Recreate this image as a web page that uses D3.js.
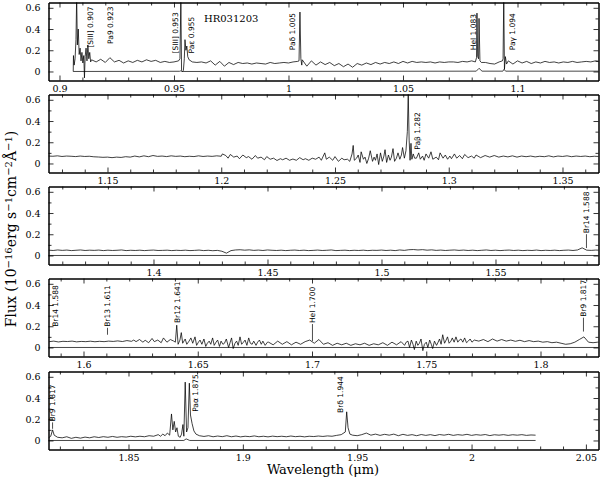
<!DOCTYPE html>
<html><head><meta charset="utf-8">
<script src="https://cdn.jsdelivr.net/npm/d3@7"></script>
<style>body{margin:0;background:#fff}svg{display:block}</style>
</head><body><svg id="c" width="600" height="479"></svg>
<script>
// ---------- data ----------
const xDomains = [[0.89520,1.13537],[1.12407,1.36583],[1.35395,1.59518],[1.58468,1.82538],[1.81502,2.05551]];
const xMajor = [[0.9,0.95,1,1.05,1.1],[1.15,1.2,1.25,1.3,1.35],[1.4,1.45,1.5,1.55],[1.6,1.65,1.7,1.75,1.8],[1.85,1.9,1.95,2,2.05]];
const yDomain = [-0.085, 0.65];
const yMajor = [0, 0.2, 0.4, 0.6];
const yMinor = [0.1, 0.3, 0.5];

const spec1 = [
[0.9060,0.00],[0.9061,0.15],[0.9064,0.06],[0.9068,0.12],[0.9072,0.30],[0.9075,0.70],[0.9078,0.25],[0.9082,0.40],[0.9086,0.16],[0.9090,0.22],[0.9094,0.10],[0.9098,0.18],[0.9102,0.08],[0.9106,0.15],[0.9109,-0.06],[0.9112,0.14],[0.9116,0.22],[0.9120,0.10],[0.9124,0.25],[0.9128,0.12],[0.9132,0.18],[0.9136,0.09],
[0.914,0.11],[0.916,0.09],[0.918,0.115],[0.920,0.085],[0.922,0.13],[0.924,0.09],[0.926,0.105],[0.928,0.08],[0.930,0.10],[0.932,0.085],[0.934,0.105],[0.936,0.09],[0.938,0.11],[0.940,0.095],[0.942,0.105],[0.944,0.085],[0.946,0.095],[0.948,0.085],[0.950,0.09],[0.952,0.10],
[0.9526,0.12],[0.9530,0.68],[0.9533,0.01],[0.9537,0.00],[0.9541,0.01],[0.9545,0.12],[0.9548,0.30],[0.9552,0.20],[0.9556,0.24],[0.9560,0.14],[0.9566,0.11],
[0.958,0.09],[0.960,0.085],[0.962,0.09],[0.964,0.08],[0.966,0.10],[0.968,0.06],[0.970,0.095],[0.972,0.05],[0.974,0.085],[0.976,0.065],[0.978,0.085],[0.980,0.075],[0.982,0.08],[0.984,0.07],[0.986,0.08],[0.988,0.075],[0.990,0.07],[0.992,0.085],[0.994,0.075],[0.996,0.08],[0.998,0.085],[1.000,0.08],[1.002,0.09],[1.004,0.095],
[1.0046,0.10],[1.0050,0.56],[1.0054,0.12],[1.0058,0.06],
[1.006,0.11],[1.008,0.05],[1.010,0.10],[1.012,0.06],[1.014,0.09],[1.016,0.065],[1.018,0.085],[1.020,0.055],[1.022,0.075],[1.024,0.045],[1.026,0.07],[1.028,0.04],[1.030,0.075],[1.032,0.06],[1.034,0.08],[1.036,0.065],[1.038,0.085],[1.040,0.07],[1.042,0.085],[1.044,0.075],[1.046,0.09],[1.048,0.075],[1.050,0.095],[1.052,0.08],[1.054,0.095],[1.056,0.085],[1.058,0.09],[1.060,0.085],[1.062,0.09],[1.064,0.08],[1.066,0.09],[1.068,0.085],[1.070,0.09],[1.072,0.09],[1.074,0.085],[1.076,0.095],[1.078,0.09],[1.080,0.10],
[1.0816,0.09],[1.0821,0.13],[1.0823,0.55],[1.0826,0.14],[1.0830,0.12],[1.0832,0.50],[1.0836,0.10],[1.0842,0.085],
[1.086,0.085],[1.088,0.075],[1.090,0.07],[1.092,0.09],
[1.0934,0.10],[1.0937,0.12],[1.0940,0.70],[1.0943,0.02],[1.0947,0.14],[1.0952,0.07],
[1.096,0.10],[1.098,0.07],[1.100,0.10],[1.102,0.08],[1.104,0.095],[1.106,0.075],[1.108,0.09],[1.110,0.08],[1.112,0.095],[1.114,0.085],[1.116,0.09],[1.118,0.08],[1.120,0.09],[1.122,0.085],[1.124,0.095],[1.126,0.085],[1.128,0.09],[1.130,0.095],[1.132,0.09],[1.134,0.10],[1.1356,0.095]
];

const spec2 = [
[1.124,0.070],[1.126,0.068],[1.128,0.072],[1.130,0.066],[1.132,0.070],[1.134,0.068],[1.136,0.065],[1.138,0.070],[1.140,0.066],[1.142,0.068],
[1.144,0.063],[1.146,0.061],[1.148,0.058],[1.150,0.060],[1.152,0.055],[1.154,0.060],[1.156,0.057],[1.158,0.064],[1.160,0.060],[1.162,0.070],
[1.164,0.062],[1.166,0.072],[1.168,0.064],[1.170,0.075],[1.172,0.067],[1.174,0.070],[1.176,0.065],[1.178,0.072],[1.180,0.067],[1.182,0.070],
[1.184,0.064],[1.186,0.068],[1.188,0.065],[1.190,0.072],[1.192,0.066],[1.194,0.070],[1.196,0.067],[1.198,0.072],[1.200,0.068],
[1.2005,0.09],[1.202,0.075],[1.203,0.05],[1.204,0.085],[1.2055,0.06],[1.207,0.07],[1.208,0.045],[1.2095,0.08],[1.211,0.055],[1.212,0.065],
[1.2135,0.04],[1.215,0.075],[1.216,0.05],[1.2175,0.06],[1.219,0.035],[1.220,0.065],[1.2215,0.04],[1.223,0.05],[1.2245,0.028],[1.226,0.045],
[1.227,0.035],[1.2285,0.05],[1.230,0.03],[1.2315,0.042],[1.233,0.03],[1.2345,0.055],[1.236,0.035],[1.237,0.045],[1.2385,0.03],[1.240,0.05],
[1.2415,0.04],[1.243,0.06],[1.244,0.03],[1.2455,0.10],[1.2462,0.04],[1.2475,0.06],[1.249,0.03],[1.250,0.065],[1.2515,0.02],[1.253,0.05],[1.254,0.035],
[1.2555,0.04],[1.2565,0.02],[1.2575,0.09],[1.2580,0.17],[1.2585,0.03],[1.2595,0.05],[1.2602,0.08],[1.2610,0.01],[1.2615,0.11],[1.2625,0.04],
[1.2632,0.06],[1.2640,0.00],[1.2648,0.05],[1.2655,0.12],[1.2665,0.02],[1.2672,0.06],[1.2678,0.03],[1.2685,0.09],[1.2692,-0.01],[1.2700,0.10],
[1.2708,0.02],[1.2715,0.07],[1.2720,0.13],[1.2727,0.01],[1.2735,0.08],[1.2742,0.03],[1.2748,0.06],[1.2755,0.14],[1.2762,0.02],[1.2770,0.05],
[1.2777,0.10],[1.2785,0.04],[1.2792,0.08],[1.2797,0.15],[1.2805,0.05],[1.2812,0.12],[1.2818,0.30],[1.2822,0.66],
[1.2826,0.22],[1.2830,0.03],[1.2834,0.19],[1.2838,0.04],[1.2844,0.09],[1.2850,0.05],
[1.2858,0.05],[1.2868,0.10],[1.2875,0.04],[1.2885,0.07],[1.2892,0.03],[1.2900,0.09],[1.2912,0.05],[1.2922,0.11],[1.2930,0.04],[1.2945,0.06],
[1.2955,0.035],[1.2962,0.10],[1.2975,0.05],[1.2985,0.08],[1.2995,0.04],[1.3005,0.07],[1.3012,0.045],[1.3025,0.09],[1.3035,0.05],[1.3048,0.075],
[1.3060,0.045],[1.3070,0.085],[1.3085,0.055],[1.3100,0.07],[1.3112,0.05],
[1.312,0.080],[1.314,0.055],[1.316,0.075],[1.318,0.060],[1.320,0.075],[1.322,0.060],[1.324,0.070],
[1.326,0.062],[1.328,0.072],[1.330,0.060],[1.332,0.070],[1.334,0.064],[1.336,0.070],[1.338,0.062],[1.340,0.068],[1.342,0.064],[1.344,0.072],
[1.346,0.062],[1.348,0.070],[1.350,0.066],[1.352,0.072],[1.354,0.064],[1.356,0.070],[1.358,0.066],[1.360,0.070],[1.362,0.064],[1.364,0.068],[1.366,0.066]
];

const spec3 = [
[1.354,0.050],[1.356,0.047],[1.358,0.052],[1.360,0.048],[1.362,0.051],[1.364,0.046],[1.366,0.049],[1.368,0.052],[1.370,0.047],[1.372,0.050],
[1.374,0.048],[1.376,0.051],[1.378,0.046],[1.380,0.050],[1.382,0.047],[1.384,0.049],[1.386,0.052],[1.388,0.046],[1.390,0.049],[1.392,0.047],
[1.394,0.050],[1.396,0.046],[1.398,0.049],[1.400,0.051],[1.402,0.047],[1.404,0.048],[1.406,0.050],[1.408,0.046],[1.410,0.049],[1.412,0.047],
[1.414,0.050],[1.416,0.046],[1.418,0.048],[1.420,0.051],[1.422,0.046],[1.424,0.049],[1.426,0.045],[1.428,0.048],[1.430,0.040],[1.432,0.022],
[1.434,0.046],[1.436,0.052],[1.438,0.054],[1.440,0.050],[1.442,0.053],[1.444,0.048],[1.446,0.051],[1.448,0.047],[1.450,0.052],[1.452,0.049],
[1.454,0.047],[1.456,0.050],[1.458,0.046],[1.460,0.049],[1.462,0.051],[1.464,0.047],[1.466,0.050],[1.468,0.046],[1.470,0.048],[1.472,0.051],
[1.474,0.047],[1.476,0.049],[1.478,0.052],[1.480,0.046],[1.482,0.048],[1.484,0.050],[1.486,0.046],[1.488,0.049],[1.490,0.047],[1.492,0.050],
[1.494,0.046],[1.496,0.049],[1.498,0.048],[1.500,0.051],[1.502,0.047],[1.504,0.050],[1.506,0.046],[1.508,0.052],[1.510,0.048],[1.512,0.054],
[1.514,0.056],[1.516,0.052],[1.518,0.055],[1.520,0.050],[1.522,0.053],[1.524,0.048],[1.526,0.051],[1.528,0.047],[1.530,0.050],[1.532,0.052],
[1.534,0.048],[1.536,0.051],[1.538,0.047],[1.540,0.050],[1.542,0.046],[1.544,0.049],[1.546,0.052],[1.548,0.047],[1.550,0.050],[1.552,0.046],
[1.554,0.049],[1.556,0.051],[1.558,0.047],[1.560,0.050],[1.562,0.046],[1.564,0.049],[1.566,0.047],[1.568,0.051],[1.570,0.046],[1.572,0.049],
[1.574,0.047],[1.576,0.050],[1.578,0.046],[1.580,0.049],[1.582,0.051],[1.584,0.047],[1.586,0.052],[1.588,0.072],[1.590,0.050],[1.592,0.048],[1.594,0.051],[1.5955,0.050]
];

const spec4 = [
[1.585,0.055],[1.587,0.060],[1.589,0.052],[1.591,0.058],[1.593,0.056],[1.595,0.060],[1.597,0.053],[1.599,0.057],[1.601,0.055],[1.603,0.059],
[1.605,0.054],[1.607,0.058],[1.609,0.055],[1.611,0.060],[1.613,0.057],[1.615,0.062],[1.617,0.056],
[1.619,0.065],[1.621,0.058],[1.622,0.070],[1.623,0.055],[1.6245,0.075],[1.626,0.050],[1.627,0.068],[1.6285,0.045],[1.630,0.085],
[1.631,0.055],[1.6325,0.070],[1.634,0.045],[1.635,0.090],[1.6365,0.050],[1.638,0.075],
[1.6395,0.06],[1.6402,0.05],[1.6408,0.21],[1.6414,0.03],[1.6422,0.07],[1.6428,0.14],[1.6434,0.04],
[1.6445,0.08],[1.6452,0.03],[1.6462,0.06],[1.6470,0.09],[1.6478,0.04],[1.6488,0.10],[1.6495,0.02],[1.6503,0.05],[1.6510,0.07],[1.6518,0.03],
[1.6527,0.08],[1.6535,0.01],[1.6542,0.04],[1.6550,0.06],[1.6557,0.03],[1.6565,0.09],[1.6572,0.02],[1.6580,0.05],[1.6587,0.07],[1.6595,0.01],
[1.6602,0.06],[1.6610,0.03],[1.6617,0.04],[1.6625,0.08],[1.6635,0.00],[1.6642,0.05],[1.6648,0.09],[1.6655,-0.01],[1.6663,0.04],[1.6670,0.06],
[1.6677,0.02],[1.6685,0.10],[1.6692,0.03],[1.6700,0.05],[1.6707,0.07],[1.6715,0.02],[1.6723,0.09],[1.6730,0.04],[1.6738,0.03],[1.6745,0.06],
[1.6755,0.02],[1.6762,0.05],[1.6770,0.07],[1.6778,0.03],[1.6785,0.06],[1.6795,0.02],[1.6805,0.05],
[1.681,0.050],[1.683,0.025],[1.685,0.060],[1.687,0.030],[1.689,0.055],[1.691,0.025],[1.693,0.050],[1.695,0.030],[1.697,0.055],[1.699,0.070],
[1.701,0.040],[1.703,0.075],[1.705,0.030],[1.707,0.045],[1.709,0.020],[1.711,0.040],[1.713,0.025],[1.715,0.040],[1.717,0.020],[1.719,0.035],
[1.721,0.025],[1.723,0.040],[1.725,0.020],[1.727,0.035],[1.729,0.025],[1.731,0.045],[1.733,0.020],[1.735,0.050],[1.737,0.025],[1.739,0.055],
[1.7405,0.02],[1.7412,0.05],[1.7420,0.06],[1.7427,0.00],[1.7435,0.07],[1.7442,0.03],[1.7448,-0.02],[1.7456,0.06],[1.7463,0.02],[1.7470,0.04],
[1.7477,0.08],[1.7485,-0.03],[1.7492,0.03],[1.7500,0.05],[1.7507,0.00],[1.7515,0.07],[1.7522,0.03],[1.7528,-0.01],[1.7536,0.06],[1.7545,0.02],
[1.7552,0.05],[1.7558,0.08],[1.7565,0.03],[1.7572,0.12],[1.7580,0.04],[1.7587,0.07],[1.7593,0.10],[1.7600,0.04],[1.7608,0.06],[1.7614,0.09],
[1.7622,0.05],[1.7630,0.10],[1.7638,0.05],[1.7645,0.07],[1.7652,0.08],[1.7660,0.05],[1.7668,0.09],[1.7676,0.045],[1.7684,0.06],[1.7692,0.08],
[1.7700,0.05],[1.7710,0.07],
[1.773,0.060],[1.775,0.075],[1.777,0.055],[1.779,0.080],[1.781,0.060],[1.783,0.075],[1.785,0.060],[1.787,0.070],[1.789,0.058],[1.791,0.068],
[1.793,0.055],[1.795,0.065],[1.797,0.055],[1.799,0.060],[1.801,0.050],[1.803,0.055],[1.805,0.045],[1.807,0.050],[1.809,0.040],[1.811,0.030],
[1.813,0.035],[1.815,0.050],[1.817,0.075],[1.819,0.100],[1.821,0.050],[1.823,0.045],[1.825,0.050],[1.8262,0.048]
];

const spec5 = [
[1.8150,0.025],[1.8160,0.040],[1.8168,0.100],[1.8175,0.050],[1.819,0.030],[1.821,0.025],[1.823,0.035],[1.825,0.020],[1.827,0.030],[1.829,0.022],
[1.831,0.032],[1.833,0.025],[1.835,0.035],[1.837,0.028],[1.839,0.036],[1.841,0.030],[1.843,0.038],[1.845,0.030],[1.847,0.036],[1.849,0.032],
[1.851,0.040],[1.853,0.034],[1.855,0.040],[1.857,0.035],[1.859,0.045],[1.861,0.040],[1.863,0.055],[1.864,0.040],[1.865,0.060],[1.866,0.045],
[1.867,0.070],[1.8680,0.050],[1.8688,0.250],[1.8694,0.100],[1.8700,0.180],[1.8706,0.080],[1.8712,0.120],[1.8718,0.040],[1.8726,0.030],[1.8732,0.060],
[1.8738,0.150],[1.8742,0.040],[1.8748,0.550],[1.8754,0.080],[1.8760,0.120],[1.8766,0.540],[1.8771,0.240],[1.8778,0.160],[1.8786,0.090],[1.8795,0.060],
[1.881,0.045],[1.883,0.038],[1.885,0.045],[1.887,0.035],[1.889,0.042],[1.891,0.036],[1.893,0.045],[1.895,0.035],[1.897,0.042],[1.899,0.034],
[1.901,0.040],[1.903,0.036],[1.905,0.043],[1.907,0.035],[1.909,0.040],[1.911,0.034],[1.913,0.041],[1.915,0.036],[1.917,0.040],[1.919,0.035],
[1.921,0.042],[1.923,0.036],[1.925,0.040],[1.927,0.034],[1.929,0.040],[1.931,0.037],[1.933,0.042],[1.935,0.038],[1.937,0.043],[1.939,0.040],
[1.941,0.048],[1.943,0.055],[1.9448,0.080],[1.9454,0.270],[1.9460,0.120],[1.9468,0.060],[1.948,0.050],[1.950,0.045],[1.952,0.055],[1.954,0.070],
[1.956,0.050],[1.958,0.060],[1.960,0.048],[1.962,0.058],[1.964,0.050],[1.966,0.060],[1.968,0.045],[1.970,0.058],[1.972,0.048],[1.974,0.055],
[1.976,0.045],[1.978,0.056],[1.980,0.048],[1.982,0.055],[1.984,0.046],[1.986,0.056],[1.988,0.050],[1.990,0.058],[1.992,0.048],[1.994,0.055],
[1.996,0.050],[1.998,0.058],[2.000,0.048],[2.002,0.055],[2.004,0.050],[2.006,0.056],[2.008,0.046],[2.010,0.054],[2.012,0.050],[2.014,0.055],
[2.016,0.048],[2.018,0.054],[2.020,0.050],[2.022,0.055],[2.024,0.048],[2.026,0.052],[2.028,0.050]
];

// zero-level (error) spectra; panel 2 shows none
const err1 = [[0.9060,0.000],[0.9525,0.002],[0.9530,0.006],[0.9534,0.000],[1.0820,0.003],[1.0832,0.030],[1.0845,0.003],[1.0936,0.003],[1.0941,0.020],[1.0948,0.003],[1.1356,0.003]];
const err2 = [];
const err3 = [[1.3535,0.0],[1.5955,0.0]];
const err4 = [[1.5845,0.0],[1.8262,0.0]];
const err5 = [[1.8148,0.0],[1.8742,0.0],[1.8752,0.015],[1.8768,0.0],[2.0280,0.0]];

// line identifications: [panel, wavelength, text, text start (flux), leader start (flux) or null]
const lineLabels = [
[0, 0.9135, "[SIII] 0.907", 0.225, null],
[0, 0.9223, "Pa9 0.923", 0.26, null],
[0, 0.9507, "[SIII] 0.953", 0.17, null],
[0, 0.9576, "Paε 0.955", 0.17, null],
[0, 1.0017, "Paδ 1.005", 0.20, null],
[0, 1.0808, "HeI 1.083", 0.20, null],
[0, 1.0978, "Paγ 1.094", 0.20, null],
[1, 1.2862, "Paβ 1.282", 0.13, null],
[2, 1.5899, "Br14 1.588", 0.21, 0.07],
[3, 1.5877, "Br14 1.588", 0.195, null],
[3, 1.6105, "Br13 1.611", 0.195, 0.12],
[3, 1.6411, "Br12 1.641", 0.23, null],
[3, 1.7002, "HeI 1.700", 0.23, 0.06],
[3, 1.8188, "Br9 1.817", 0.29, 0.15],
[4, 1.8168, "Br9 1.817", 0.18, 0.11],
[4, 1.8793, "Paα 1.875", 0.27, null],
[4, 1.9428, "Brδ 1.944", 0.26, null]
];
const objectName = "HR031203";

// ---------- drawing ----------
const specs = [spec1, spec2, spec3, spec4, spec5];
const errs = [err1, err2, err3, err4, err5];
const svg = d3.select("#c");
const L = 48.5, R = 598.5, H = 78;
const tops = [2.5, 94.5, 186.5, 278.5, 371.5];
const fmt = d3.format("~g");
const tickFont = "DejaVu Serif";

tops.forEach((top, i) => {
  const x = d3.scaleLinear().domain(xDomains[i]).range([L, R]);
  const y = d3.scaleLinear().domain(yDomain).range([top + H, top]);
  const g = svg.append("g");
  const cid = "clip" + i;
  svg.append("clipPath").attr("id", cid).append("rect")
    .attr("x", L).attr("y", top).attr("width", R - L).attr("height", H);

  const line = d3.line().x(d => x(d[0])).y(d => y(d[1]));
  if (errs[i].length) {
    g.append("path").datum(errs[i]).attr("d", line).attr("clip-path", `url(#${cid})`)
      .attr("fill", "none").attr("stroke", "#333").attr("stroke-width", 0.9);
  }
  g.append("path").datum(specs[i]).attr("d", line).attr("clip-path", `url(#${cid})`)
    .attr("fill", "none").attr("stroke", "#000").attr("stroke-width", 0.75);

  const minors = x.ticks(24).filter(v => !xMajor[i].some(m => Math.abs(m - v) < 1e-6));
  const styleAxis = sel => {
    sel.selectAll("path.domain").attr("stroke", "#000").attr("stroke-width", 1);
    sel.selectAll(".tick line").attr("stroke", "#000").attr("stroke-width", 0.8);
    sel.selectAll("text").attr("font-family", tickFont).attr("font-size", 9.5).attr("fill", "#000");
  };
  g.append("g").attr("transform", `translate(0,${top + H})`)
    .call(d3.axisBottom(x).tickValues(minors).tickSize(-3).tickSizeOuter(0).tickFormat(""))
    .call(styleAxis);
  g.append("g").attr("transform", `translate(0,${top + H})`)
    .call(d3.axisBottom(x).tickValues(xMajor[i]).tickSize(-5).tickSizeOuter(0).tickPadding(5).tickFormat(fmt))
    .call(styleAxis);
  g.append("g").attr("transform", `translate(0,${top})`)
    .call(d3.axisTop(x).tickValues(minors).tickSize(-3).tickSizeOuter(0).tickFormat(""))
    .call(styleAxis);
  g.append("g").attr("transform", `translate(0,${top})`)
    .call(d3.axisTop(x).tickValues(xMajor[i]).tickSize(-5).tickSizeOuter(0).tickFormat(""))
    .call(styleAxis);
  g.append("g").attr("transform", `translate(${L},0)`)
    .call(d3.axisLeft(y).tickValues(yMinor).tickSize(-3).tickSizeOuter(0).tickFormat(""))
    .call(styleAxis);
  g.append("g").attr("transform", `translate(${L},0)`)
    .call(d3.axisLeft(y).tickValues(yMajor).tickSize(-5).tickSizeOuter(0).tickPadding(8).tickFormat(fmt))
    .call(styleAxis);
  g.append("g").attr("transform", `translate(${R},0)`)
    .call(d3.axisRight(y).tickValues(yMinor).tickSize(-3).tickSizeOuter(0).tickFormat(""))
    .call(styleAxis);
  g.append("g").attr("transform", `translate(${R},0)`)
    .call(d3.axisRight(y).tickValues(yMajor).tickSize(-5).tickSizeOuter(0).tickFormat(""))
    .call(styleAxis);

  lineLabels.filter(d => d[0] === i).forEach(d => {
    const lx = x(d[1]), ly = y(d[3]);
    if (d[4] !== null) {
      g.append("line").attr("x1", lx).attr("x2", lx).attr("y1", y(d[4])).attr("y2", ly + 1)
        .attr("stroke", "#000").attr("stroke-width", 0.7);
    }
    g.append("text").attr("transform", `translate(${lx},${ly}) rotate(-90)`)
      .attr("text-anchor", "start").attr("dominant-baseline", "central")
      .attr("font-family", "DejaVu Sans").attr("font-size", 7.5).attr("fill", "#000")
      .text(d[2]);
  });

  if (i === 0) {
    g.append("text").attr("x", x(0.9631)).attr("y", y(0.47)).attr("font-family", "DejaVu Serif")
      .attr("font-size", 10).attr("fill", "#000").text(objectName);
  }
});

// axis titles
svg.append("text").attr("x", 323).attr("y", 474).attr("text-anchor", "middle")
  .attr("font-family", "DejaVu Serif").attr("font-size", 13).attr("fill", "#000")
  .text("Wavelength (μm)");

const yl = svg.append("text").attr("transform", "translate(16,229) rotate(-90)")
  .attr("text-anchor", "middle").attr("font-family", "DejaVu Serif").attr("font-size", 14).attr("fill", "#000");
const parts = [["Flux (10", 0], ["−16", 1], ["erg s", 0], ["−1", 1], ["cm", 0], ["−2", 1], ["Å", 0], ["−1", 1], [")", 0]];
parts.forEach(p => {
  yl.append("tspan").attr("font-size", p[1] ? 10 : 14).attr("baseline-shift", p[1] ? "40%" : "0%").text(p[0]);
});
</script>
</body></html>
